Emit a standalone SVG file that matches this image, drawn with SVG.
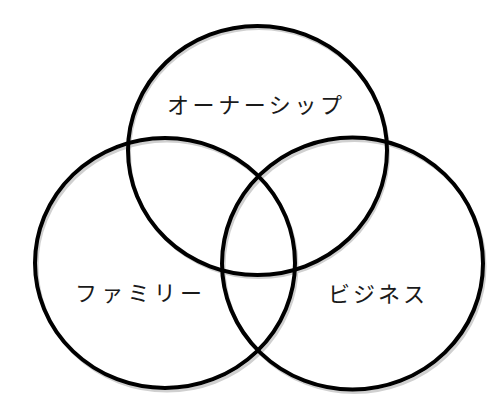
<svg xmlns="http://www.w3.org/2000/svg" width="500" height="415" viewBox="0 0 500 415">
<style>
.ring{fill:none;stroke:#000;stroke-width:4}
.shadow{fill:none;stroke:#d0d0d0;stroke-width:3}
.lbl{font-family:"Noto Sans CJK JP","Noto Sans",sans-serif;font-size:22px;fill:#1a1a1a}
</style>
<rect width="500" height="415" fill="#fff"/>
<g id="shadows">
<ellipse class="shadow" cx="259" cy="153" rx="129.5" ry="124.5"/>
<ellipse class="shadow" cx="167" cy="266" rx="130" ry="125"/>
<ellipse class="shadow" cx="354.5" cy="266.5" rx="130.5" ry="126"/>
</g>
<g id="ownership">
<ellipse class="ring" cx="257.5" cy="150.5" rx="129.5" ry="124.5"/>
<text class="lbl" x="167" y="113" textLength="175" lengthAdjust="spacing">オーナーシップ</text>
</g>
<g id="family">
<ellipse class="ring" cx="165" cy="263" rx="130" ry="125"/>
<text class="lbl" x="75" y="301" textLength="127" lengthAdjust="spacing">ファミリー</text>
</g>
<g id="business">
<ellipse class="ring" cx="352.5" cy="263.5" rx="130.5" ry="126"/>
<text class="lbl" x="328" y="302" textLength="97" lengthAdjust="spacing">ビジネス</text>
</g>
<g id="connectors"></g>
</svg>
